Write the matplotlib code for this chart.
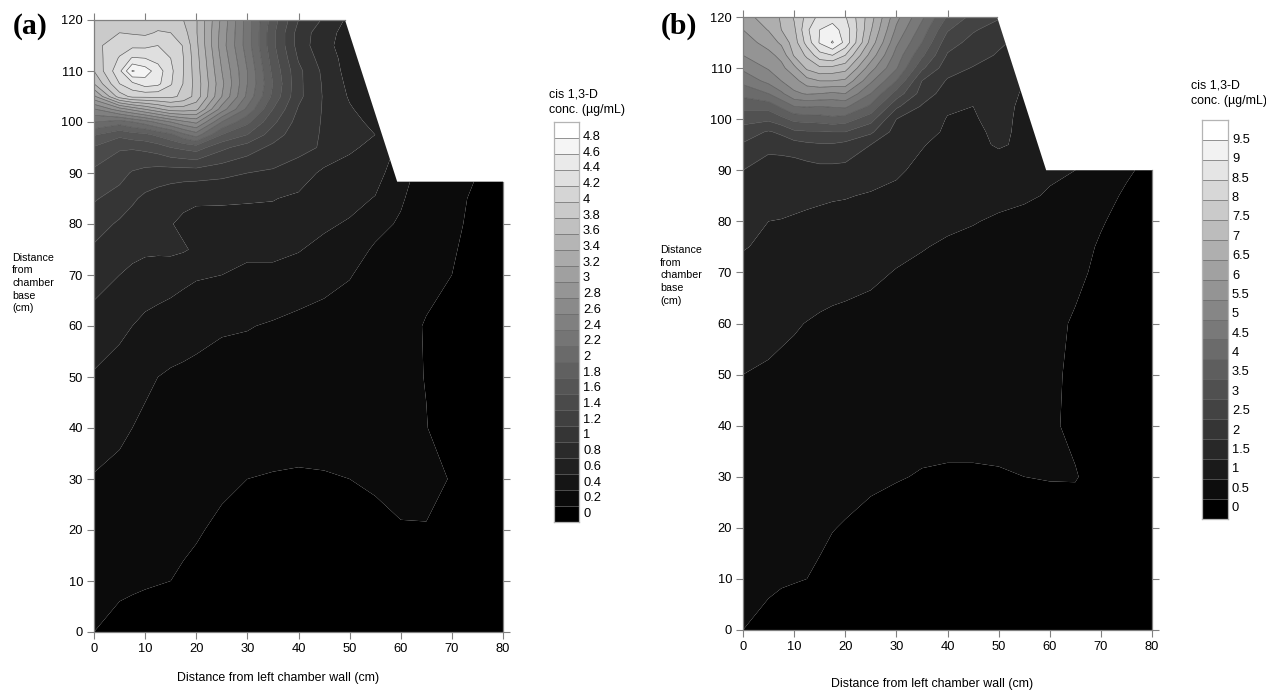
import numpy as np
import matplotlib
matplotlib.use('Agg')
import matplotlib.pyplot as plt
from matplotlib.patches import Polygon

plt.rcParams['font.family'] = ['Liberation Sans', 'DejaVu Sans']

W, H = 1266, 690

# grid the concentrations were read on (cm)
x_cols = [0, 5, 7.5, 10, 12.5, 15, 17.5, 20, 25, 30, 35, 40, 45, 50, 55, 60, 65, 70, 75, 80]
y_rows = [0, 10, 20, 30, 40, 50, 60, 70, 75, 80, 85, 90, 95, 97.5, 100, 102.5, 105, 107.5, 110, 112.5, 115, 117.5, 120]

# panel a, one list per x column, bottom to top
conc_a = [
    [.20, .26, .33, .39, .47, .58, .72, .88, .97, 1.09, 1.22, 1.35, 1.58, 1.82, 2.2, 2.58, 3.15, 3.6, 3.8, 3.88, 3.95, 3.92, 3.9],
    [.14, .24, .30, .36, .43, .51, .65, .80, .88, .97, 1.12, 1.27, 1.42, 1.65, 2.1, 2.9, 3.9, 4.2, 4.35, 4.22, 4.1, 4.0, 3.9],
    [.12, .23, .29, .34, .40, .47, .60, .76, .85, .92, 1.03, 1.18, 1.42, 1.72, 2.2, 3.05, 4.05, 4.35, 4.82, 4.42, 4.15, 3.98, 3.9],
    [.10, .22, .28, .33, .37, .43, .55, .73, .83, .88, .96, 1.13, 1.45, 1.75, 2.3, 3.2, 4.05, 4.5, 4.7, 4.4, 4.15, 3.96, 3.92],
    [.09, .21, .265, .31, .355, .40, .52, .71, .83, .85, .92, 1.1, 1.5, 1.85, 2.45, 3.35, 4.05, 4.45, 4.5, 4.32, 4.2, 4.02, 3.9],
    [.08, .20, .25, .30, .34, .38, .49, .69, .84, .81, .89, 1.08, 1.6, 1.95, 2.6, 3.5, 4.05, 4.22, 4.25, 4.2, 4.18, 4.0, 3.88],
    [.07, .18, .23, .285, .325, .37, .47, .65, .82, .76, .85, 1.08, 1.65, 2.15, 2.75, 3.5, 3.95, 3.99, 4.0, 4.0, 3.98, 3.88, 3.8],
    [.06, .16, .215, .27, .31, .36, .45, .62, .77, .73, .83, 1.08, 1.7, 2.3, 2.85, 3.45, 3.72, 3.72, 3.7, 3.68, 3.65, 3.62, 3.62],
    [.05, .12, .17, .23, .29, .33, .42, .60, .68, .72, .83, 1.05, 1.45, 1.8, 2.2, 2.7, 3.0, 3.05, 3.0, 2.95, 2.9, 2.92, 2.95],
    [.05, .10, .15, .20, .27, .31, .41, .57, .63, .72, .82, 1.0, 1.3, 1.6, 1.85, 2.15, 2.35, 2.4, 2.4, 2.35, 2.3, 2.3, 2.3],
    [.05, .09, .13, .19, .26, .30, .38, .56, .64, .72, .81, .97, 1.15, 1.3, 1.45, 1.6, 1.75, 1.8, 1.75, 1.7, 1.65, 1.65, 1.7],
    [.05, .08, .12, .185, .25, .29, .34, .53, .61, .68, .76, .92, 1.05, 1.08, 1.12, 1.18, 1.25, 1.25, 1.25, 1.18, 1.12, 1.12, 1.2],
    [.05, .08, .13, .19, .25, .28, .33, .46, .55, .63, .70, .75, .98, .98, .98, .98, .98, .97, .95, .9, .85, .88, .97],
    [.05, .08, .14, .20, .25, .27, .31, .41, .47, .58, .66, .72, .83, .88, .85, .82, .78, .75, .72, .72, .72, .72, .75],
    [.05, .08, .16, .22, .25, .26, .28, .33, .38, .45, .59, .68, .75, .8, .76, .7, .65, .62, .6, .6, .6, .6, .6],
    [.05, .08, .19, .24, .24, .24, .25, .30, .34, .38, .42, .47, .55, .55, .55, .55, .55, .55, .55, .55, .55, .55, .55],
    [.05, .08, .19, .25, .205, .195, .19, .24, .26, .28, .30, .32, .35, .35, .35, .35, .35, .35, .35, .35, .35, .35, .35],
    [.05, .07, .17, .19, .12, .12, .12, .20, .22, .24, .23, .25, .30, .30, .30, .30, .30, .30, .30, .30, .30, .30, .30],
    [.05, .06, .12, .12, .08, .08, .08, .10, .13, .15, .18, .20, .20, .20, .20, .20, .20, .20, .20, .20, .20, .20, .20],
    [.04, .05, .08, .08, .05, .05, .05, .06, .08, .10, .12, .15, .15, .15, .15, .15, .15, .15, .15, .15, .15, .15, .15],
]

# panel b
conc_b = [
    [.5, .6, .7, .8, .9, 1.0, 1.2, 1.4, 1.52, 1.67, 1.83, 2.0, 2.45, 2.75, 3.2, 3.65, 4.15, 4.65, 5.1, 5.5, 5.75, 6.0, 6.3],
    [.37, .58, .68, .77, .87, .95, 1.12, 1.33, 1.44, 1.5, 1.62, 1.75, 2.15, 2.45, 3.1, 3.7, 4.5, 5.15, 5.55, 5.85, 6.2, 6.53, 6.75],
    [.28, .55, .65, .74, .84, .92, 1.07, 1.29, 1.41, 1.49, 1.6, 1.72, 2.2, 2.6, 3.35, 4.1, 4.9, 5.5, 5.85, 6.15, 6.6, 7.0, 7.05],
    [.2, .53, .62, .72, .81, .9, 1.03, 1.25, 1.38, 1.47, 1.58, 1.7, 2.3, 2.9, 3.65, 4.5, 5.4, 5.8, 6.35, 7.05, 7.25, 7.4, 7.55],
    [.17, .5, .58, .69, .78, .86, .99, 1.21, 1.34, 1.45, 1.56, 1.78, 2.4, 2.95, 3.7, 4.55, 5.55, 6.3, 7.1, 7.6, 8.2, 8.4, 8.15],
    [.15, .46, .55, .66, .75, .83, .95, 1.18, 1.3, 1.42, 1.55, 1.85, 2.45, 2.95, 3.75, 4.5, 5.5, 6.5, 7.4, 8.3, 9.05, 9.0, 8.65],
    [.12, .4, .51, .63, .72, .8, .92, 1.15, 1.28, 1.4, 1.53, 1.85, 2.45, 3.0, 3.85, 4.55, 5.4, 6.5, 7.35, 8.5, 9.55, 9.2, 8.8],
    [.1, .35, .48, .6, .7, .78, .9, 1.13, 1.27, 1.38, 1.52, 1.85, 2.35, 3.0, 3.75, 4.6, 5.5, 6.4, 7.2, 8.0, 8.85, 8.8, 8.55],
    [.08, .25, .42, .55, .67, .74, .85, 1.08, 1.2, 1.32, 1.47, 1.65, 2.0, 2.6, 3.2, 3.9, 4.5, 5.1, 5.7, 6.3, 6.8, 7.05, 7.2],
    [.06, .2, .35, .52, .63, .7, .82, .98, 1.1, 1.25, 1.42, 1.55, 1.68, 1.78, 2.0, 2.6, 3.3, 4.0, 4.55, 4.8, 5.1, 5.4, 5.65],
    [.05, .15, .3, .48, .6, .67, .78, .92, 1.02, 1.18, 1.33, 1.42, 1.52, 1.62, 1.72, 1.95, 2.3, 2.5, 3.1, 3.6, 4.0, 4.3, 4.6],
    [.04, .12, .28, .47, .58, .65, .74, .87, .95, 1.07, 1.25, 1.32, 1.4, 1.45, 1.48, 1.55, 1.75, 1.95, 2.2, 2.45, 2.7, 3.05, 3.45],
    [.04, .1, .25, .47, .58, .65, .72, .82, .9, 1.02, 1.15, 1.28, 1.38, 1.42, 1.47, 1.5, 1.65, 1.85, 1.97, 2.2, 2.35, 2.55, 2.85],
    [.04, .1, .25, .48, .58, .65, .7, .78, .85, .95, 1.1, 1.25, 1.55, 1.58, 1.6, 1.62, 1.7, 1.8, 1.85, 1.95, 2.08, 2.3, 2.55],
    [.04, .1, .27, .5, .57, .62, .66, .74, .8, .9, 1.05, 1.2, 1.42, 1.42, 1.42, 1.43, 1.45, 1.5, 1.6, 1.7, 1.85, 2.0, 2.2],
    [.04, .1, .3, .52, .57, .58, .6, .67, .73, .83, .97, 1.05, 1.2, 1.2, 1.2, 1.2, 1.2, 1.2, 1.2, 1.2, 1.2, 1.2, 1.2],
    [.04, .08, .25, .53, .4, .42, .46, .58, .63, .72, .85, 1.0, 1.1, 1.1, 1.1, 1.1, 1.1, 1.1, 1.1, 1.1, 1.1, 1.1, 1.1],
    [.03, .05, .15, .3, .25, .3, .33, .42, .46, .53, .62, .75, .8, .8, .8, .8, .8, .8, .8, .8, .8, .8, .8],
    [.03, .05, .12, .1, .12, .15, .2, .28, .33, .38, .45, .55, .6, .6, .6, .6, .6, .6, .6, .6, .6, .6, .6],
    [.02, .03, .05, .05, .06, .08, .1, .15, .18, .22, .3, .4, .4, .4, .4, .4, .4, .4, .4, .4, .4, .4, .4],
]

# chamber outlines
chamber_a = [(0, 0), (80, 0), (80, 88.3), (59.3, 88.3), (49.1, 120), (0, 120)]
chamber_b = [(0, 0), (80, 0), (80, 90), (59.3, 90), (49.7, 120), (0, 120)]

levels_a = [round(0.2 * i, 1) for i in range(26)]
levels_b = [round(0.5 * i, 1) for i in range(21)]
labels_a = ['0', '0.2', '0.4', '0.6', '0.8', '1', '1.2', '1.4', '1.6', '1.8', '2', '2.2', '2.4', '2.6', '2.8',
            '3', '3.2', '3.4', '3.6', '3.8', '4', '4.2', '4.4', '4.6', '4.8']
labels_b = ['0', '0.5', '1', '1.5', '2', '2.5', '3', '3.5', '4', '4.5', '5', '5.5', '6', '6.5', '7',
            '7.5', '8', '8.5', '9', '9.5']

fig = plt.figure(figsize=(W / 100, H / 100), dpi=100)


def px_axes(left, top, right, bottom):
    return fig.add_axes([left / W, 1 - bottom / H, (right - left) / W, (bottom - top) / H])


def panel(box, conc, levels, chamber, line_from):
    ax = px_axes(*box)
    n = len(levels) - 1
    greys = [str(i / (n - 1)) for i in range(n)]
    z = np.array(conc).T
    clip = Polygon(chamber, closed=True, transform=ax.transData, fc='none', ec='none')
    ax.add_patch(clip)
    cf = ax.contourf(x_cols, y_rows, z, levels=levels, colors=greys, antialiased=True)
    cf.set_clip_path(clip)
    cl = ax.contour(x_cols, y_rows, z, levels=[v for v in levels if v >= line_from], colors='#505050', linewidths=0.45)
    cl.set_clip_path(clip)
    ax.set_xlim(0, 80)
    ax.set_ylim(0, 120)
    ax.set_xticks(range(0, 81, 10))
    ax.set_yticks(range(0, 121, 10))
    ax.tick_params(length=5.3, width=0.8, color='#808080', labelsize=9.3, pad=2.5)
    for s in ax.spines.values():
        s.set_color('#808080')
        s.set_linewidth(0.9)
    ax.spines['top'].set_bounds(0, chamber[4][0])
    ax.spines['right'].set_bounds(0, chamber[2][1])
    # short ticks on the far sides, only where the chamber reaches
    top = ax.secondary_xaxis('top')
    top.set_xticks(range(0, 41, 10))
    top.tick_params(length=5.3, width=0.8, color='#808080', labeltop=False)
    top.spines['top'].set_visible(False)
    right = ax.secondary_yaxis('right')
    right.set_yticks(range(0, 81, 10))
    right.tick_params(length=5.3, width=0.8, color='#808080', labelright=False)
    right.spines['right'].set_visible(False)
    return ax


def colorbar(box, levels, labels, first_y, last_y):
    ax = px_axes(*box)
    n = len(levels) - 1
    greys = np.linspace(0, 1, n).reshape(-1, 1)
    ax.pcolormesh([0, 1], range(n + 1), greys, cmap='gray', vmin=0, vmax=1)
    ax.hlines(range(1, n), 0, 1, color='#6a6a6a', lw=0.5)
    ax.set_xlim(0, 1)
    ax.set_ylim(0, n)
    ax.set_xticks([])
    ax.set_yticks([])
    for s in ax.spines.values():
        s.set_color('#b4b4b4')
        s.set_linewidth(0.9)
    for i, lab in enumerate(labels):
        y_px = first_y + (last_y - first_y) * i / (len(labels) - 1)
        fig.text((box[2] + 4) / W, 1 - y_px / H, lab, fontsize=9.3, va='center', ha='left')


def px_text(x, y, s, **kw):
    fig.text(x / W, 1 - y / H, s, **kw)


panel((94, 20, 503, 632), conc_a, levels_a, chamber_a, 1.0)
panel((743, 17, 1152, 630), conc_b, levels_b, chamber_b, 2.0)
colorbar((554, 122, 579, 522), levels_a, labels_a, 514, 137)
colorbar((1202, 120, 1228, 519), levels_b, labels_b, 508, 140)

px_text(13, 26, '(a)', family='Liberation Serif', fontweight='bold', fontsize=21.5, va='center')
px_text(661, 26, '(b)', family='Liberation Serif', fontweight='bold', fontsize=21.5, va='center')
px_text(12, 283, 'Distance\nfrom\nchamber\nbase\n(cm)', fontsize=7.7, va='center', linespacing=1.34)
px_text(660, 275.5, 'Distance\nfrom\nchamber\nbase\n(cm)', fontsize=7.7, va='center', linespacing=1.34)
px_text(278, 678, 'Distance from left chamber wall (cm)', fontsize=8.9, ha='center', va='center')
px_text(932, 684, 'Distance from left chamber wall (cm)', fontsize=8.9, ha='center', va='center')
px_text(549, 102, 'cis 1,3-D\nconc. (µg/mL)', fontsize=8.9, va='center', linespacing=1.35)
px_text(1191, 93.5, 'cis 1,3-D\nconc. (µg/mL)', fontsize=8.9, va='center', linespacing=1.35)

fig.savefig('out.png', dpi=100)
